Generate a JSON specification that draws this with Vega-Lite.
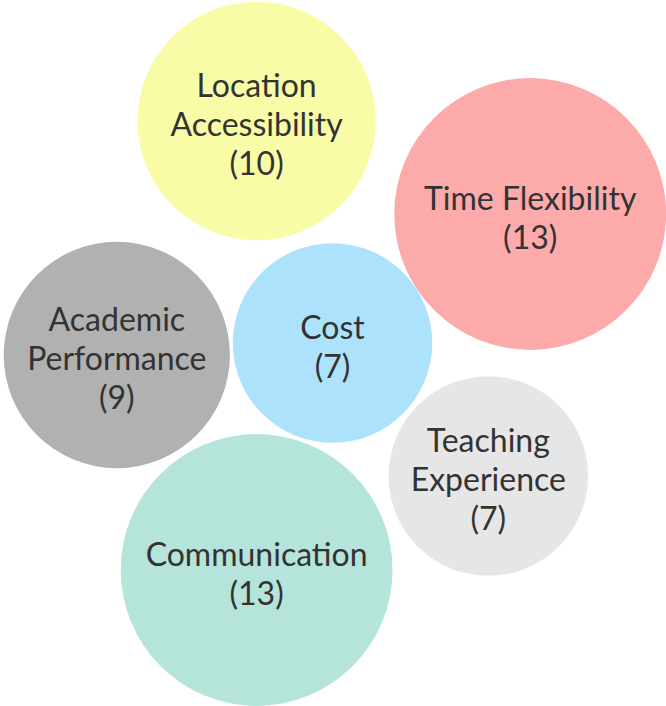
{
  "$schema": "https://vega.github.io/schema/vega-lite/v6.json",
  "width": 666,
  "height": 706,
  "autosize": {"type": "fit", "contains": "padding"},
  "padding": 0,
  "background": "white",
  "config": {"view": {"stroke": null}},
  "data": {
    "values": [
      {"factor": "Location Accessibility", "label": ["Location", "Accessibility", "(10)"], "count": 10, "x": 257, "y": 121, "color": "#f8fca6"},
      {"factor": "Time Flexibility", "label": ["Time Flexibility", "(13)"], "count": 13, "x": 531, "y": 214, "color": "#fcaaaa"},
      {"factor": "Cost", "label": ["Cost", "(7)"], "count": 7, "x": 333, "y": 343, "color": "#ade2fc"},
      {"factor": "Academic Performance", "label": ["Academic", "Performance", "(9)"], "count": 9, "x": 117, "y": 355, "color": "#b1b1b1"},
      {"factor": "Teaching Experience", "label": ["Teaching", "Experience", "(7)"], "count": 7, "x": 489, "y": 476, "color": "#e6e6e6"},
      {"factor": "Communication", "label": ["Communication", "(13)"], "count": 13, "x": 257, "y": 570, "color": "#b4e4da"}
    ]
  },
  "encoding": {
    "x": {"field": "x", "type": "quantitative", "scale": {"domain": [0, 666], "nice": false, "zero": false}, "axis": null},
    "y": {"field": "y", "type": "quantitative", "scale": {"domain": [0, 706], "nice": false, "zero": false, "reverse": true}, "axis": null}
  },
  "layer": [
    {
      "mark": {"type": "circle", "opacity": 1},
      "encoding": {
        "size": {"field": "count", "type": "quantitative", "scale": {"type": "linear", "domain": [0, 13], "range": [0, 73905], "zero": true}, "legend": null},
        "color": {"field": "color", "type": "nominal", "scale": null, "legend": null}
      }
    },
    {
      "transform": [{"filter": "length(datum.label) == 3"}],
      "mark": {"type": "text", "font": "Lato", "fontSize": 32, "color": "#333333", "align": "center", "baseline": "middle", "lineHeight": 39, "dy": -34},
      "encoding": {"text": {"field": "label"}}
    },
    {
      "transform": [{"filter": "length(datum.label) == 2"}],
      "mark": {"type": "text", "font": "Lato", "fontSize": 32, "color": "#333333", "align": "center", "baseline": "middle", "lineHeight": 39, "dy": -14.5},
      "encoding": {"text": {"field": "label"}}
    }
  ]
}
